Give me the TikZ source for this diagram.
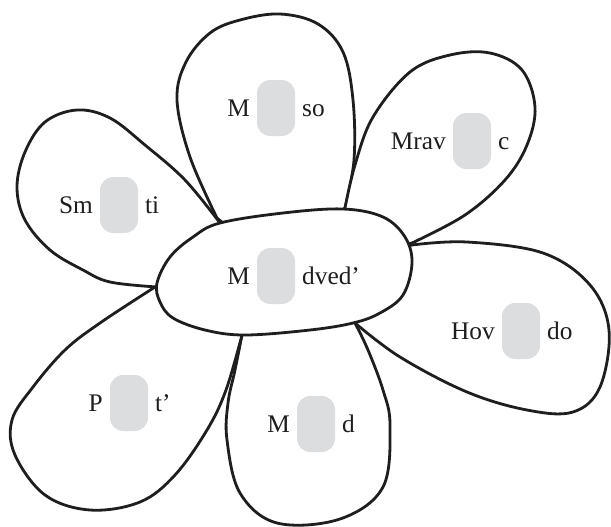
\documentclass[tikz,border=0pt]{standalone}
\usepackage{fontspec}
\setmainfont{Liberation Serif}
\newfontfamily\petalfont{Liberation Serif}
\definecolor{gapgray}{HTML}{DCDDDF}
\definecolor{ink}{HTML}{1E1E1E}
\begin{document}
\begin{tikzpicture}[x=0.75pt,y=-0.75pt,
  petal/.style={draw=ink, line width=2.1pt, fill=white, line join=round, line cap=round},
  gapbox/.style={fill=gapgray, draw=none, rounded corners=10pt, minimum width=28.5pt, minimum height=42pt, inner sep=0pt},
  lbl/.style={inner sep=0pt, font=\petalfont\fontsize{19}{21}\selectfont, text=ink}]
\path[use as bounding box] (0,0) rectangle (611,526);
\coordinate (ctr) at (282,272);
% top petal
\path[petal] plot[smooth, tension=0.6] coordinates {(217,218) (190,157) (177,100) (186,62) (210,33) (240,20) (280,14) (318,24) (343,52) (353,100) (354,160) (345,208)} -- (ctr) -- cycle;
% upper-right petal
\path[petal] plot[smooth, tension=0.6] coordinates {(345,208) (355,165) (373,117) (410,72) (450,55) (490,53) (522,70) (535,107) (527,145) (505,180) (465,215) (412,243)} -- (ctr) -- cycle;
% right petal
\path[petal] plot[smooth, tension=0.6] coordinates {(412,245) (467,242) (543,253) (590,285) (609,330) (600,387) (573,412) (527,410) (467,392) (400,357) (355,323)} -- (ctr) -- cycle;
% bottom petal
\path[petal] plot[smooth, tension=0.6] coordinates {(355,323) (368,350) (383,390) (390,425) (383,487) (340,519) (277,523) (240,493) (227,440) (228,403) (235,370) (242,335)} -- (ctr) -- cycle;
% lower-left petal
\path[petal] plot[smooth, tension=0.6] coordinates {(242,335) (226,390) (207,430) (175,475) (140,502) (90,510) (45,495) (15,455) (12,420) (33,387) (65,350) (100,323) (155,287)} -- (ctr) -- cycle;
% upper-left petal
\path[petal] plot[smooth, tension=0.6] coordinates {(157,287) (110,282) (83,270) (50,250) (25,220) (17,187) (25,152) (45,122) (77,110) (110,118) (145,145) (185,180) (220,223)} -- (ctr) -- cycle;
% center
\path[petal] plot[smooth cycle, tension=0.6] coordinates {(157,283) (170,257) (193,237) (220,223) (283,213) (343,209) (383,217) (405,237) (412,263) (403,295) (380,313) (353,323) (310,330) (245,335) (205,330) (173,318) (160,302)};

% labels
\node[gapbox] (g1) at (276,108) {};
\node[lbl, anchor=base east] (l1) at ([xshift=-5pt,yshift=-6pt]g1.west) {M};
\node[lbl, anchor=base west] (r1) at ([xshift=5pt,yshift=-6pt]g1.east) {so};

\node[gapbox] (g2) at (472,141) {};
\node[lbl, anchor=base east] (l2) at ([xshift=-5pt,yshift=-6pt]g2.west) {Mrav};
\node[lbl, anchor=base west] (r2) at ([xshift=5pt,yshift=-6pt]g2.east) {c};

\node[gapbox] (g3) at (119,205) {};
\node[lbl, anchor=base east] (l3) at ([xshift=-5pt,yshift=-6pt]g3.west) {Sm};
\node[lbl, anchor=base west] (r3) at ([xshift=5pt,yshift=-6pt]g3.east) {ti};

\node[gapbox] (g4) at (276,276) {};
\node[lbl, anchor=base east] (l4) at ([xshift=-5pt,yshift=-6pt]g4.west) {M};
\node[lbl, anchor=base west] (r4) at ([xshift=5pt,yshift=-6pt]g4.east) {dved’};

\node[gapbox] (g5) at (521,331) {};
\node[lbl, anchor=base east] (l5) at ([xshift=-5pt,yshift=-6pt]g5.west) {Hov};
\node[lbl, anchor=base west] (r5) at ([xshift=5pt,yshift=-6pt]g5.east) {do};

\node[gapbox] (g6) at (129,403) {};
\node[lbl, anchor=base east] (l6) at ([xshift=-5pt,yshift=-6pt]g6.west) {P};
\node[lbl, anchor=base west] (r6) at ([xshift=5pt,yshift=-6pt]g6.east) {t’};

\node[gapbox] (g7) at (316,424) {};
\node[lbl, anchor=base east] (l7) at ([xshift=-5pt,yshift=-6pt]g7.west) {M};
\node[lbl, anchor=base west] (r7) at ([xshift=5pt,yshift=-6pt]g7.east) {d};
\end{tikzpicture}
\end{document}
